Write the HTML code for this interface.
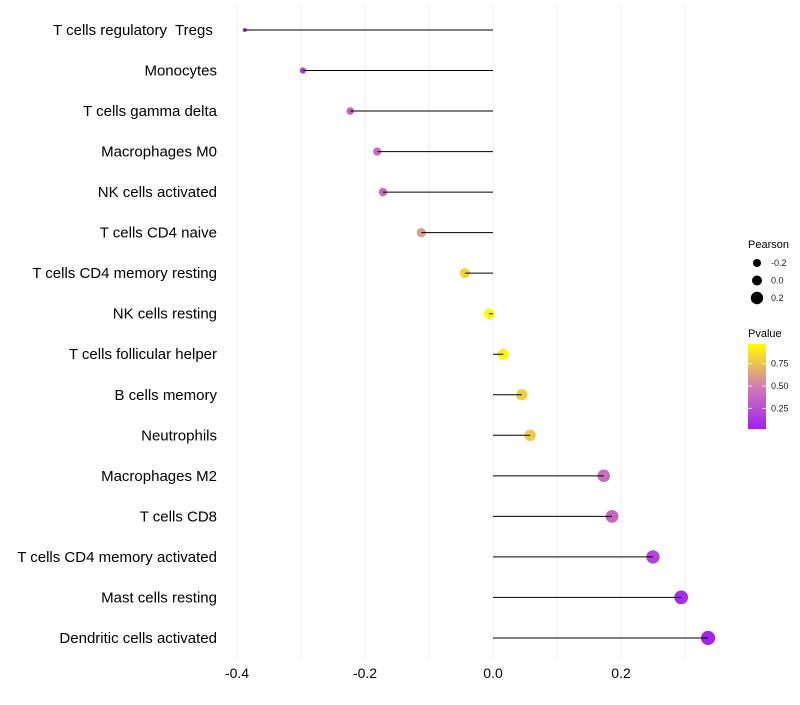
<!DOCTYPE html>
<html><head><meta charset="utf-8"><style>
body{margin:0;background:#fff;font-family:"Liberation Sans",sans-serif;}
svg text{font-family:"Liberation Sans",sans-serif;white-space:pre;}
</style></head><body>
<svg id="chart" width="800" height="700" xmlns="http://www.w3.org/2000/svg"></svg>
<script>
const categories=["T cells regulatory  Tregs ","Monocytes","T cells gamma delta","Macrophages M0","NK cells activated","T cells CD4 naive","T cells CD4 memory resting","NK cells resting","T cells follicular helper","B cells memory","Neutrophils","Macrophages M2","T cells CD8","T cells CD4 memory activated","Mast cells resting","Dendritic cells activated"];
const pearson=[-0.388,-0.297,-0.223,-0.181,-0.172,-0.112,-0.044,-0.006,0.016,0.045,0.058,0.173,0.186,0.25,0.294,0.336];
const pvalue=[0.05,0.15,0.38,0.42,0.42,0.62,0.82,0.97,0.93,0.8,0.78,0.42,0.38,0.2,0.1,0.05];
const xTicks=[-0.4,-0.2,0.0,0.2];
const xTickLabels=["-0.4","-0.2","0.0","0.2"];
const gridVals=[-0.4,-0.3,-0.2,-0.1,0,0.1,0.2,0.3];
const svg=document.getElementById('chart');
const NS='http://www.w3.org/2000/svg';
function X(v){return 493+v*640;}
function Y(i){return 30+i*40.53;}
function R(v){return Math.sqrt(4+Math.max(0,(v+0.388))/0.724*46);}
function lerp(a,b,t){return Math.round(a+(b-a)*t);}
function col(p){
  const stops=[[0,[160,32,240]],[0.5,[210,125,180]],[1,[255,255,0]]];
  const t=Math.max(0,Math.min(1,(p-0.03)/0.94));
  let a=stops[0],b=stops[1];if(t>0.5){a=stops[1];b=stops[2];}
  const u=(t-a[0])/(b[0]-a[0]);
  return `rgb(${lerp(a[1][0],b[1][0],u)},${lerp(a[1][1],b[1][1],u)},${lerp(a[1][2],b[1][2],u)})`;
}
function el(t,at,txt){const e=document.createElementNS(NS,t);for(const k in at)e.setAttribute(k,at[k]);if(txt!==undefined)e.textContent=txt;svg.appendChild(e);return e;}
gridVals.forEach(v=>{
  const g=el('line',{x1:X(v),x2:X(v),y1:5,y2:660,stroke:'#efefef','stroke-width':1});
  
  
});
categories.forEach((c,i)=>{
  const t=el('text',{x:217,y:Y(i)+5,'text-anchor':'end','font-size':15,fill:'#000'},c);
  
  
  const p=el('circle',{cx:X(pearson[i]),cy:Y(i),r:R(pearson[i]),fill:col(pvalue[i])});
  
  
  const l=el('line',{x1:X(0),x2:X(pearson[i]),y1:Y(i),y2:Y(i),stroke:'#000','stroke-width':1});
  
  
});
xTicks.forEach((v,i)=>{
  const t=el('text',{x:X(v),y:678,'text-anchor':'middle','font-size':14,fill:'#000'},xTickLabels[i]);
  
  
});
const lg=el('text',{x:748,y:248,'font-size':11,fill:'#000'},'Pearson');


const sizeVals=[-0.2,0.0,0.2];
const sizeLabels=["-0.2","0.0","0.2"];
sizeVals.forEach((v,i)=>{
  const y=263+i*17.5;
  const c=el('circle',{cx:757,cy:y,r:[4,5,6.2][i],fill:'#000'});
  
  
  const t=el('text',{x:771,y:y+3,'font-size':9,fill:'#1a1a1a'},sizeLabels[i]);
  
  
});
const pt=el('text',{x:748,y:337,'font-size':11,fill:'#000'},'Pvalue');


const defs=el('defs',{});
defs.innerHTML='<linearGradient id="cb" x1="0" y1="1" x2="0" y2="0"><stop offset="0" stop-color="'+col(0.03)+'"/><stop offset="0.5" stop-color="'+col(0.5)+'"/><stop offset="1" stop-color="'+col(0.97)+'"/></linearGradient>';
const cb=el('rect',{x:748,y:344,width:18,height:85,fill:'url(#cb)'});


[[0.75,"0.75"],[0.5,"0.50"],[0.25,"0.25"]].forEach(([v,s])=>{
  const y=428-(v-0.03)/0.94*84;
  el('line',{x1:748,x2:752,y1:y,y2:y,stroke:'#fff','stroke-width':0.8});
  el('line',{x1:762,x2:766,y1:y,y2:y,stroke:'#fff','stroke-width':0.8});
  const t=el('text',{x:771,y:y+3,'font-size':9,fill:'#1a1a1a'},s);
  
  
});
</script>
</body></html>
